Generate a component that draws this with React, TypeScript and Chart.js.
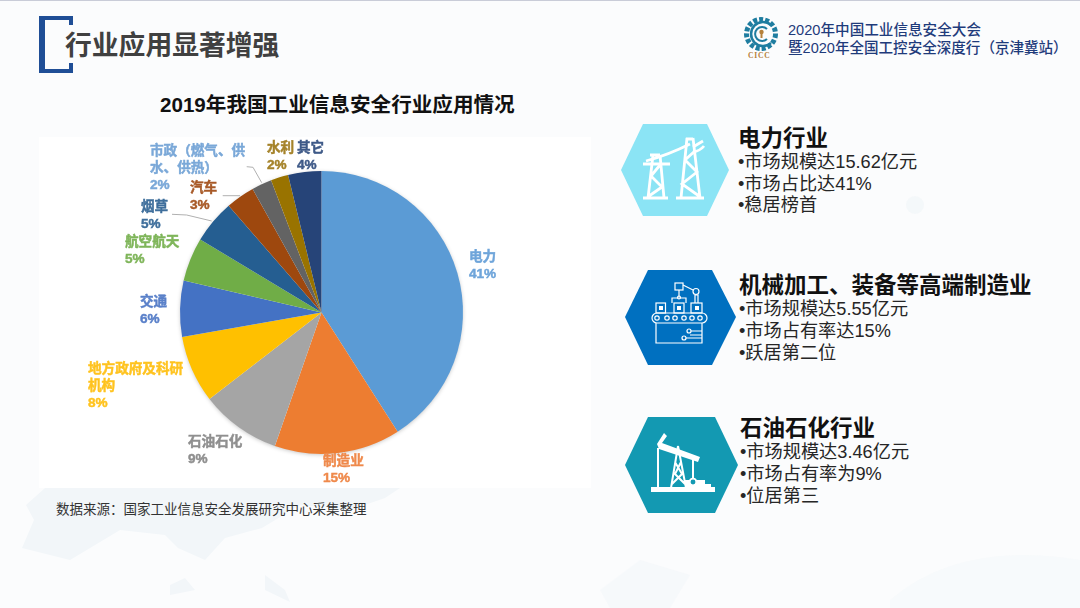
import React, { useEffect, useRef } from "react";
import { Chart, registerables } from "chart.js";

Chart.register(...registerables);

// ---- data ----
const categories = ["电力", "制造业", "石油石化", "地方政府及科研机构", "交通", "航空航天", "烟草", "汽车", "市政（燃气、供水、供热）", "水利", "其它"];
const sliceValues = [41, 14.4, 9.2, 7.7, 6.4, 5, 5, 3.3, 2.3, 2, 3.8];
const sliceColors = ["#5b9bd5", "#ed7d31", "#a5a5a5", "#ffc000", "#4472c4", "#70ad47", "#255e91", "#9e480e", "#636363", "#997300", "#264478"];
const labelColors = ["#6fa5da", "#ef8a4c", "#8f8f8f", "#ffc31f", "#5a80c9", "#7fb55a", "#3f6f9c", "#a85a28", "#7aa8d8", "#a5832a", "#3f5a88"];
const labelLines = [
  ["电力", "41%"],
  ["制造业", "15%"],
  ["石油石化", "9%"],
  ["地方政府及科研", "机构", "8%"],
  ["交通", "6%"],
  ["航空航天", "5%"],
  ["烟草", "5%"],
  ["汽车", "3%"],
  ["市政（燃气、供", "水、供热）", "2%"],
  ["水利", "2%"],
  ["其它", "4%"],
];
const panels = [
  { head: "电力行业", lines: ["•市场规模达15.62亿元", "•市场占比达41%", "•稳居榜首"] },
  { head: "机械加工、装备等高端制造业", lines: ["•市场规模达5.55亿元", "•市场占有率达15%", "•跃居第二位"] },
  { head: "石油石化行业", lines: ["•市场规模达3.46亿元", "•市场占有率为9%", "•位居第三"] },
];

// ---- layout ----
const PANEL = { x: 39, y: 137, w: 552, h: 351 };
const labelPos = [
  [469, 257, 17], [323, 461, 17.5], [188, 442.5, 17], [88, 369.5, 17], [140, 302.5, 16.5], [125, 242, 17],
  [141, 207, 17.5], [190, 188, 17.5], [150, 151, 17], [267, 148.5, 16.5], [297, 148.5, 16.5],
];
const leaders = [
  [[246.7, 166.7], [253, 167.3], [261.7, 182.7]],
  [[222.7, 195.7], [240, 195.7]],
  [[172, 214.3], [186.7, 215], [211.7, 221]],
];
const FONT = '"Liberation Sans","Noto Sans CJK SC",sans-serif';

const sliceLabels = {
  id: "sliceLabels",
  beforeDatasetsDraw(chart: any) {
    const arc = chart.getDatasetMeta(0).data[0];
    const ctx = chart.ctx;
    ctx.save();
    ctx.shadowColor = "rgba(0,0,0,0.25)";
    ctx.shadowBlur = 4;
    ctx.shadowOffsetY = 1;
    ctx.fillStyle = "#fff";
    ctx.beginPath();
    ctx.arc(arc.x, arc.y, arc.outerRadius - 0.5, 0, Math.PI * 2);
    ctx.fill();
    ctx.restore();
  },
  afterDatasetsDraw(chart: any) {
    const ctx = chart.ctx;
    ctx.save();
    ctx.strokeStyle = "#b0b0b0";
    ctx.lineWidth = 1;
    leaders.forEach((pts) => {
      ctx.beginPath();
      pts.forEach((p, i) => {
        const x = p[0] - PANEL.x;
        const y = p[1] - PANEL.y;
        if (i) ctx.lineTo(x, y);
        else ctx.moveTo(x, y);
      });
      ctx.stroke();
    });
    ctx.font = `700 13.6px ${FONT}`;
    ctx.textBaseline = "middle";
    ctx.lineWidth = 0.45;
    labelLines.forEach((lines, i) => {
      ctx.fillStyle = labelColors[i];
      ctx.strokeStyle = labelColors[i];
      const [x, y, step] = labelPos[i];
      lines.forEach((t, j) => {
        ctx.fillText(t, x - PANEL.x, y - PANEL.y + j * step);
        ctx.strokeText(t, x - PANEL.x, y - PANEL.y + j * step);
      });
    });
    ctx.restore();
  },
};

function PieChart() {
  const ref = useRef<HTMLCanvasElement>(null);
  useEffect(() => {
    const chart = new Chart(ref.current!, {
      type: "pie",
      data: {
        labels: categories,
        datasets: [{ data: sliceValues, backgroundColor: sliceColors, borderWidth: 0, hoverOffset: 0 }],
      },
      options: {
        animation: false,
        responsive: false,
        layout: { padding: { left: 141, right: 128, top: 34, bottom: 34 } },
        plugins: { legend: { display: false }, tooltip: { enabled: false } },
      },
      plugins: [sliceLabels],
    } as any);
    return () => chart.destroy();
  }, []);
  return (
    <canvas
      ref={ref}
      width={PANEL.w}
      height={PANEL.h}
      style={{ position: "absolute", left: PANEL.x, top: PANEL.y, width: PANEL.w, height: PANEL.h, background: "#fff" }}
    />
  );
}

const abs = (x: number, y: number, size: number, color: string, weight = 400): React.CSSProperties => ({
  position: "absolute",
  left: x,
  top: y + 0.8 - size * 0.75,
  fontSize: size,
  lineHeight: `${size * 1.5}px`,
  color,
  fontWeight: weight,
  fontFamily: FONT,
  whiteSpace: "nowrap",
});

function Hex({ x1, x2, x3, x4, top, mid, bottom, fill }: any) {
  return <polygon points={`${x1},${mid} ${x2},${top} ${x3},${top} ${x4},${mid} ${x3},${bottom} ${x2},${bottom}`} fill={fill} />;
}

function Graphics() {
  return (
    <svg width={1080} height={608} style={{ position: "absolute", left: 0, top: 0 }}>
      {/* faint background map */}
      <g fill="#f2f6f9">
        <path d="M22 548 L34 520 L26 505 L45 488 L400 488 L385 498 L350 510 L300 505 L262 528 L225 538 L205 560 L178 548 L165 535 L120 530 L70 560 Z" />
        <path d="M170 585 L185 578 L195 590 L170 595 Z M265 575 L285 590 L290 602 L265 590 Z" />
        <path d="M600 590 L640 560 L690 575 L670 608 L610 608 Z" opacity="0.5" />
        <path d="M890 600 Q960 540 1080 560 L1080 608 L890 608 Z" opacity="0.35" />
        <circle cx="915" cy="205" r="9" opacity="0.8" />
      </g>
      {/* header bracket */}
      <path d="M71 25 V18 H41 V71 H71 V63" fill="none" stroke="#1f4e96" strokeWidth={4} />
      <rect x={39} y={16} width={6} height={57} fill="#1f4e96" />
      {/* hexagons */}
      <Hex x1={621} x2={643} x3={707} x4={729} top={124} mid={170} bottom={216} fill="#8be4f5" />
      <Hex x1={625} x2={648} x3={712} x4={736} top={270} mid={317} bottom={365} fill="#0070c0" />
      <Hex x1={625} x2={648} x3={715} x4={738} top={417} mid={465} bottom={513} fill="#1399b2" />
      {/* power towers */}
      <g stroke="#fff" strokeWidth={2.8} fill="none">
        <path d="M643 198 H668 M676 198 H704 M653 155 L648 198 M660 155 L664 198 M651 176 L662 187 L649 196 M660 165 L651 176 M687 138 L681 198 M693 138 L700 198 M685 160 L697 172 L682 184 L699 196 M696 150 L685 160" />
        <path d="M643 164 H670 M650 155 H660 M686 139 H693 M646 161 Q668 155 690 144 M693 152 Q700 151 704 146 M693 147 L703 141" />
      </g>
      {/* conveyor */}
      <g stroke="#fff" strokeWidth={1.2} fill="none">
        <rect x={652} y={313} width={55} height={10} rx={5} />
        {[657, 667, 675, 684, 692, 700].map((cx) => (
          <circle key={cx} cx={cx} cy={318} r={2.2} />
        ))}
        <rect x={656} y={303} width={9.5} height={10} />
        <rect x={674} y={303} width={10} height={10} />
        <rect x={691} y={303} width={11} height={10} />
        <rect x={675} y={283} width={8} height={7} />
        <path d="M683 285 L693 290 M679 290 V297 M672 303 V298 H686 V303 M695 303 V295 H698 V303" />
        <circle cx={696} cy={291.5} r={3} />
        <circle cx={679} cy={297.5} r={1.5} />
        <path d="M656 323 V343 H702 V323 M691 331 H702 M686 338 H702 M690 335 H702" />
        <circle cx={689} cy={331} r={2} />
        <circle cx={684} cy={338} r={2} />
      </g>
      <rect x={659} y={306} width={4} height={4} fill="#fff" />
      <rect x={677} y={306} width={4} height={4} fill="#fff" />
      <rect x={695} y={306} width={4} height={4} fill="#fff" />
      {/* pump jack */}
      <polygon points="657,444 664,433 667,436 662,443 700,457 698,462 659,449" fill="#fff" />
      <g stroke="#fff" strokeWidth={2} fill="none">
        <path d="M658 448 V490 M678 446 L671 488 M678 446 L686 488 M675 462 L682 474 L672 484 M681 462 L675 474 L685 484 M693 460 V478" />
        <circle cx={693} cy={482} r={3.2} />
      </g>
      <path d="M651 487 H685 V480 H705 V484 H711 V487 H715 V492 H651 Z" fill="#fff" />
      <circle cx={693} cy={482} r={3.2} fill="#1399b2" stroke="#fff" strokeWidth={1.5} />
      {/* logo */}
      <circle cx={761} cy={34} r={14.5} fill="none" stroke="#1f7da0" strokeWidth={5} strokeDasharray="4 2" />
      <path d="M771 25 A12 12 0 1 0 771 43" fill="none" stroke="#1f7da0" strokeWidth={2.5} />
      <path d="M767 29 A7 7 0 1 0 767 39" fill="none" stroke="#1f7da0" strokeWidth={2} />
      <circle cx={761.5} cy={32} r={2.2} fill="#b5803a" />
      <rect x={760.5} y={33} width={2} height={5} fill="#b5803a" />
    </svg>
  );
}

export default function App() {
  return (
    <div
      style={{
        position: "fixed",
        left: 0,
        top: 0,
        width: 1080,
        height: 608,
        overflow: "hidden",
        background: "#fbfcfd",
        borderTop: "1px solid #c9ccd8",
        boxSizing: "border-box",
        filter: "blur(0.35px)",
      }}
    >
      <div style={{ position: "absolute", left: 0, top: -1, width: 1080, height: 608 }}>
        <Graphics />
        <PieChart />
        <div style={abs(65, 45, 26.8, "#404040", 700)}>行业应用显著增强</div>
        <div style={abs(160, 105, 20.6, "#111", 700)}>2019年我国工业信息安全行业应用情况</div>
        <div style={abs(56, 509, 13.5, "#333")}>数据来源：国家工业信息安全发展研究中心采集整理</div>
        <div style={abs(788, 30, 14.6, "#1f3b7b", 500)}>2020年中国工业信息安全大会</div>
        <div style={abs(788, 48.5, 14.55, "#1f3b7b", 500)}>暨2020年全国工控安全深度行（京津冀站）</div>
        <div style={{ ...abs(748, 55, 7.6, "#b5803a", 700), fontFamily: '"Liberation Serif",serif', letterSpacing: 0.8 }}>CICC</div>
        {panels.map((p, i) => {
          const hx = [738, 739, 740][i];
          const hy = [138, 285, 428][i];
          const ly = [161.7, 309, 452][i];
          return (
            <React.Fragment key={p.head}>
              <div style={abs(hx, hy, 22.5, "#111", 700)}>{p.head}</div>
              {p.lines.map((t, j) => (
                <div key={t} style={abs(hx, ly + j * 21.8, 18.2, "#262626")}>
                  {t}
                </div>
              ))}
            </React.Fragment>
          );
        })}
      </div>
    </div>
  );
}
